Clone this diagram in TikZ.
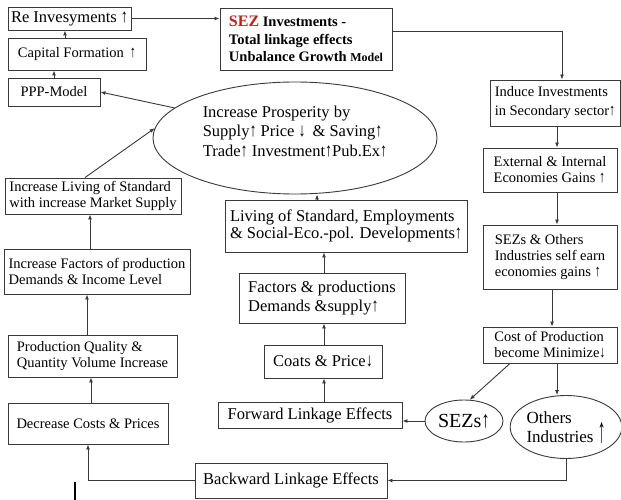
\documentclass[tikz,border=0pt]{standalone}
\usepackage{fontspec}
\setmainfont{Liberation Serif}
\usetikzlibrary{shapes.geometric,arrows.meta}
\definecolor{linec}{HTML}{3A3A3A}
\definecolor{sezred}{HTML}{C0201A}
\newcommand\fa{\fontsize{14.5}{16}\selectfont}
\newcommand\fb{\fontsize{16.5}{19}\selectfont}
\newcommand\ua{\raisebox{0pt}{\scalebox{0.85}[1.15]{↑}}}
\newcommand\da{\raisebox{0pt}{\scalebox{0.85}[1.15]{↓}}}
\begin{document}
\begin{tikzpicture}[x=1pt,y=-1pt,
  box/.style={draw=linec, line width=0.9pt, fill=white, align=left, inner sep=0pt, font=\fa},
  oval/.style={ellipse, draw=linec, line width=0.9pt, fill=white, align=left, inner sep=0pt},
  arr/.style={draw=linec, line width=0.9pt, -{Latex[length=5pt,width=4pt]}}]
\useasboundingbox (0,0) rectangle (621,500);
\fill[white] (0,0) rectangle (621,500);
% left column top
\node[box, minimum width=123pt, minimum height=23pt, font=\fb] (rein) at (69.5,18.5) {Re Invesyments \ua};
\node[box, minimum width=138pt, minimum height=32pt] (capf) at (77,54) {Capital Formation \,\ua};
\node[box, minimum width=92pt, minimum height=28pt] (ppp) at (54,92) {PPP-Model};
% SEZ box
\node[box, minimum width=172pt, minimum height=62pt, font=\fontsize{14.5}{17.5}\selectfont\bfseries] (sez) at (306,39)
  {{\color{sezred}\fontsize{16}{17.5}\selectfont SEZ} Investments -\\Total linkage effects\\Unbalance Growth {\fontsize{12}{17.5}\selectfont Model}};
% right column
\node[box, minimum width=130pt, minimum height=46pt, font=\fontsize{14.5}{19}\selectfont] (induce) at (555,103) {Induce Investments\\in Secondary sector\ua};
\node[box, minimum width=134pt, minimum height=44pt] (ext) at (550,170) {External \& Internal\\Economies Gains \ua};
\node[box, minimum width=134pt, minimum height=64pt] (sezo) at (550,257) {SEZs \& Others\\Industries self earn\\economies gains \ua};
\node[box, minimum width=134pt, minimum height=36pt] (cost) at (550,345) {Cost of Production\\become Minimize\da};
% ellipse
\node[oval, minimum width=284pt, minimum height=112pt, font=\fontsize{16.5}{19.5}\selectfont] (pros) at (295,138)
  {Increase Prosperity by\\Supply\ua{} Price \da{}\, \& Saving\ua\\Trade\ua{} Investment\ua Pub.Ex\ua\\[-5.5pt]\mbox{}};
% left column lower
\node[box, minimum width=176pt, minimum height=36pt] (incliv) at (93,196) {Increase Living of Standard\\with increase Market Supply};
\node[box, minimum width=186pt, minimum height=45pt] (incfac) at (97,271.5) {Increase Factors of production\\Demands \& Income Level};
\node[box, minimum width=169pt, minimum height=42pt] (prodq) at (92.5,356) {Production Quality \&\\Quantity Volume Increase};
\node[box, minimum width=160pt, minimum height=41pt] (decc) at (88,423.5) {Decrease Costs \& Prices};
% middle column
\node[box, minimum width=242pt, minimum height=52pt, font=\fontsize{16.5}{17}\selectfont] (livst) at (346,226) {Living of Standard, Employments\\\& Social-Eco.-pol. Developments\ua};
\node[box, minimum width=166pt, minimum height=50pt, font=\fontsize{16.5}{18.5}\selectfont] (facp) at (322,298) {Factors \& productions\\Demands \&supply\ua};
\node[box, minimum width=118pt, minimum height=33pt, font=\fb] (coats) at (323,361.5) {Coats \& Price\da};
\node[box, minimum width=184pt, minimum height=26pt, font=\fb] (fwd) at (310,415) {Forward Linkage Effects};
\node[box, minimum width=192pt, minimum height=35pt, font=\fb] (back) at (291,480.5) {Backward Linkage Effects};
% small ellipses
\node[oval, minimum width=78pt, minimum height=42pt, font=\fontsize{20}{22}\selectfont] (sezs) at (464,421) {SEZs\ua};
\node[oval, minimum width=108pt, minimum height=63pt, font=\fontsize{17}{19}\selectfont] (others) at (566,427)
  {Others\\Industries \raisebox{0pt}[0pt][0pt]{\scalebox{0.9}[2.1]{↑}}};
% connectors
\draw[arr] (rein.east) -- (rein.east -| sez.west);
\draw[arr] ([xshift=-12pt]capf.north) -- ([xshift=-12pt]capf.north |- rein.south);
\draw[arr] (ppp.north) -- (ppp.north |- capf.south);
\draw[arr] ([yshift=8pt]sez.east) -| ([xshift=7pt]induce.north);
\draw[arr] ([xshift=7pt]ext.north |- induce.south) -- ([xshift=7pt]ext.north);
\draw[arr] ([xshift=7pt]ext.south) -- ([xshift=7pt]sezo.north);
\draw[arr] ([xshift=2pt]sezo.south) -- ([xshift=2pt]cost.north);
\coordinate (c1) at ([xshift=7pt]cost.south);
\draw[arr] (c1) -- (c1 |- others.north);
\draw[arr] ([xshift=-40pt]cost.south) -- (sezs.75);
\draw[arr] (sezs.west) -- (sezs.west -| fwd.east);
\draw[arr] (others.south) |- (back.east);
\draw[arr] (back.west) -| (decc.south);
\draw[arr] ([xshift=3pt]decc.north) -- ([xshift=3pt]decc.north |- prodq.south);
\draw[arr] ([xshift=-5.5pt]prodq.north) -- ([xshift=-5.5pt]prodq.north |- incfac.south);
\draw[arr] ([xshift=-7pt]incfac.north) -- ([xshift=-7pt]incfac.north |- incliv.south);
\draw[arr] ([xshift=-8pt]incliv.north) -- (pros.176);
\draw[arr] (pros.166) -- (ppp.east);
\draw[arr] ([xshift=-29pt]livst.north) -- ([xshift=-29pt]livst.north |- pros.south);
\draw[arr] ([xshift=2pt]facp.north) -- ([xshift=2pt]facp.north |- livst.south);
\draw[arr] ([xshift=1pt]coats.north) -- ([xshift=1pt]coats.north |- facp.south);
\draw[arr] ([xshift=14pt]fwd.north) -- ([xshift=14pt]fwd.north |- coats.south);
% stray mark
\draw[line width=1.6pt] (75,482) -- (75,500);
\end{tikzpicture}
\end{document}
